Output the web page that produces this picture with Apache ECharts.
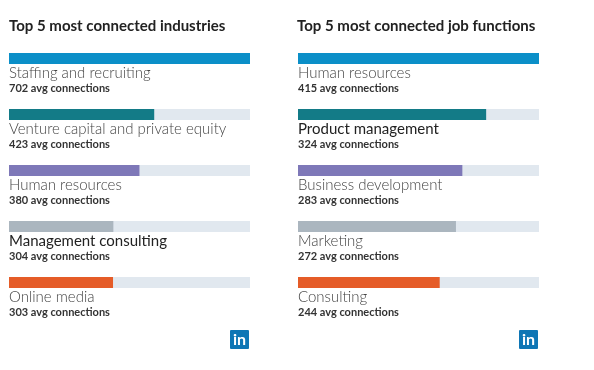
<!DOCTYPE html>
<html><head><meta charset="utf-8">
<script src="https://cdn.jsdelivr.net/npm/echarts@6/dist/echarts.min.js"></script>
<style>html,body{margin:0;padding:0;background:#fff}#c{width:594px;height:370px}</style>
</head><body><div id="c"></div>
<script>
var leftTitle = 'Top 5 most connected industries';
var rightTitle = 'Top 5 most connected job functions';
var industries = ['Staffing and recruiting','Venture capital and private equity','Human resources','Management consulting','Online media'];
var industryValues = [702, 423, 380, 304, 303];
var functions = ['Human resources','Product management','Business development','Marketing','Consulting'];
var functionValues = [415, 324, 283, 272, 244];
var colors = ['#0b8fc8','#137b87','#7e78b8','#abb6bf','#e55c28'];
var darkLabels = {'Management consulting':1, 'Product management':1};

function mkData(vals){
  return vals.map(function(v,i){ return {value:v, itemStyle:{color:colors[i]}}; });
}
function mkSeries(names, vals, idx){
  return {
    type:'bar', xAxisIndex:idx, yAxisIndex:idx, barWidth:11,
    data: mkData(vals),
    showBackground:true, backgroundStyle:{color:'#e1e8ef'},
    label:{show:true, position:[0,12], align:'left', verticalAlign:'top',
      formatter:function(p){
        var n = names[p.dataIndex];
        return (darkLabels[n] ? '{d|'+n+'}' : '{n|'+n+'}') + '\n{v|'+p.value+' avg connections}';
      },
      rich:{
        n:{fontFamily:'Lato', fontSize:15, fontWeight:300, color:'#444', lineHeight:16},
        d:{fontFamily:'Lato', fontSize:15, fontWeight:'normal', color:'#222', lineHeight:16},
        v:{fontFamily:'Lato', fontSize:11, fontWeight:'bold', color:'#333', lineHeight:14}
      }
    }
  };
}
var ts = {fontFamily:'Lato', fontSize:15, fontWeight:'bold', color:'#222'};
var chart = echarts.init(document.getElementById('c'));
chart.setOption({
  animation:false,
  title:[
    {text:leftTitle, left:9, top:19, padding:0, textStyle:ts},
    {text:rightTitle, left:297, top:19, padding:0, textStyle:ts}
  ],
  grid:[
    {left:9, width:241, top:30.5, height:280},
    {left:298, width:241, top:30.5, height:280}
  ],
  xAxis:[
    {gridIndex:0, type:'value', min:0, max:industryValues[0], show:false},
    {gridIndex:1, type:'value', min:0, max:functionValues[0], show:false}
  ],
  yAxis:[
    {gridIndex:0, type:'category', data:industries, inverse:true, show:false},
    {gridIndex:1, type:'category', data:functions, inverse:true, show:false}
  ],
  series:[mkSeries(industries, industryValues, 0), mkSeries(functions, functionValues, 1)],
  graphic:[
    {type:'group', left:230, top:330, children:[
      {type:'rect', shape:{x:0,y:0,width:19,height:19,r:1}, style:{fill:'#0e76b5'}},
      {type:'text', x:9.5, y:10, style:{text:'in', fill:'#fff', font:'bold 16px Lato', align:'center', verticalAlign:'middle'}}
    ]},
    {type:'group', left:519, top:330, children:[
      {type:'rect', shape:{x:0,y:0,width:19,height:19,r:1}, style:{fill:'#0e76b5'}},
      {type:'text', x:9.5, y:10, style:{text:'in', fill:'#fff', font:'bold 16px Lato', align:'center', verticalAlign:'middle'}}
    ]}
  ]
});
</script></body></html>
